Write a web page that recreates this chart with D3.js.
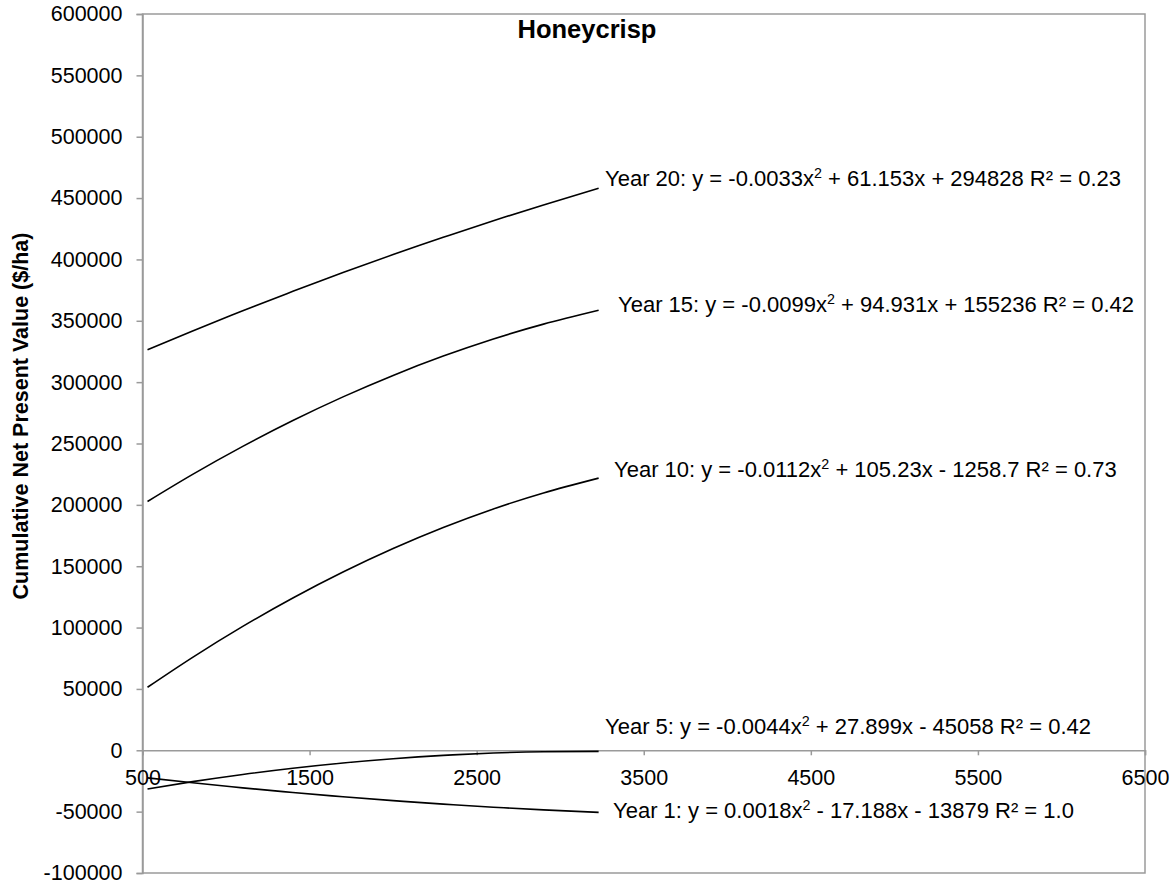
<!DOCTYPE html>
<html>
<head>
<meta charset="utf-8">
<script src="https://cdn.jsdelivr.net/npm/d3@7"></script>
<style>
  html, body { margin: 0; padding: 0; background: #fff; }
  svg { display: block; font-family: "Liberation Sans", Arial, sans-serif; }
</style>
</head>
<body>
<svg id="chart" width="1172" height="884"></svg>
<script>
const title = "Honeycrisp";
const yAxisTitle = "Cumulative Net Present Value ($/ha)";
const xTicks = [500, 1500, 2500, 3500, 4500, 5500, 6500];
const yTicks = [-100000, -50000, 0, 50000, 100000, 150000, 200000, 250000, 300000, 350000, 400000, 450000, 500000, 550000, 600000];

const xValues = [530, 800, 1100, 1400, 1700, 2000, 2300, 2600, 2900, 3230];
const year20 = [326312, 341638, 358103, 373974, 389251, 403934, 418023, 431518, 444419, 457923];
const year15 = [202768, 224845, 247681, 268735, 288008, 305498, 321206, 335133, 347277, 358577];
const year10 = [51367, 75757, 100942, 124111, 145264, 164401, 181522, 196627, 209716, 221786];
const year5  = [-31508, -25555, -19693, -14623, -10346, -6860, -4166, -2265, -1155, -849];
const year1  = [-22483, -26477, -30608, -34414, -37897, -41055, -43889, -46400, -48586, -50617];

const seriesNames = ["Year 20", "Year 15", "Year 10", "Year 5", "Year 1"];
const seriesValues = [year20, year15, year10, year5, year1];
const equationA = ["-0.0033x", "-0.0099x", "-0.0112x", "-0.0044x", "0.0018x"];
const equationB = [" + 61.153x + 294828 R² = 0.23", " + 94.931x + 155236 R² = 0.42", " + 105.23x - 1258.7 R² = 0.73", " + 27.899x - 45058 R² = 0.42", " - 17.188x - 13879 R² = 1.0"];

// ---- Layout ----
const svg = d3.select("#chart");
const pLeft = 142.5, pRight = 1145, pTop = 14, pBottom = 873;
const x = d3.scaleLinear().domain([500, 6500]).range([pLeft, pRight]);
const y = d3.scaleLinear().domain([-100000, 600000]).range([pBottom, pTop]);
const axisColor = "#9a9a9a";
const fs = 21.5;
const fmt = d => String(d);

// plot border
svg.append("rect")
  .attr("x", pLeft).attr("y", pTop)
  .attr("width", pRight - pLeft).attr("height", pBottom - pTop)
  .attr("fill", "none").attr("stroke", axisColor).attr("stroke-width", 1.5);

// y axis
const yAxis = d3.axisLeft(y).tickValues(yTicks).tickSize(6).tickPadding(14).tickFormat(fmt);
const gy = svg.append("g").attr("transform", `translate(${pLeft},0)`).call(yAxis);
gy.select(".domain").attr("stroke", axisColor).attr("stroke-width", 1.5);
gy.selectAll(".tick line").attr("stroke", axisColor).attr("stroke-width", 1.5);
gy.selectAll(".tick text").attr("font-size", fs).attr("fill", "#000")
  .attr("font-family", "Liberation Sans, Arial, sans-serif");

// x axis at y = 0
const xAxis = d3.axisBottom(x).tickValues(xTicks).tickSize(5).tickPadding(14).tickFormat(fmt);
const gx = svg.append("g").attr("transform", `translate(0,${y(0)})`).call(xAxis);
gx.select(".domain").attr("stroke", axisColor).attr("stroke-width", 1.5);
gx.selectAll(".tick line").attr("stroke", axisColor).attr("stroke-width", 1.5);
gx.selectAll(".tick text").attr("font-size", fs).attr("fill", "#000")
  .attr("font-family", "Liberation Sans, Arial, sans-serif");

// lines
const line = d3.line().x((d, i) => x(xValues[i])).y(d => y(d)).curve(d3.curveNatural);
seriesValues.forEach(vals => {
  svg.append("path").datum(vals)
    .attr("d", line)
    .attr("fill", "none").attr("stroke", "#000").attr("stroke-width", 1.6);
});

// equation labels
const lfs = 22;
const labelPos = [[605, 186], [618, 312], [614, 477], [605, 734], [613, 818]];
seriesNames.forEach((name, i) => {
  const t = svg.append("text")
    .attr("x", labelPos[i][0]).attr("y", labelPos[i][1])
    .attr("font-size", lfs).attr("fill", "#000");
  t.append("tspan").text(`${name}: y = ${equationA[i]}`);
  t.append("tspan").attr("font-size", lfs * 0.65).attr("dy", -8).text("2");
  t.append("tspan").attr("dy", 8).text(equationB[i]);
});

// title
svg.append("text")
  .attr("x", 587).attr("y", 38)
  .attr("text-anchor", "middle")
  .attr("font-size", 25.5).attr("font-weight", "bold")
  .text(title);

// y axis title
svg.append("text")
  .attr("transform", "translate(28,416) rotate(-90)")
  .attr("text-anchor", "middle")
  .attr("font-size", 21.5).attr("font-weight", "bold")
  .text(yAxisTitle);
</script>
</body>
</html>
